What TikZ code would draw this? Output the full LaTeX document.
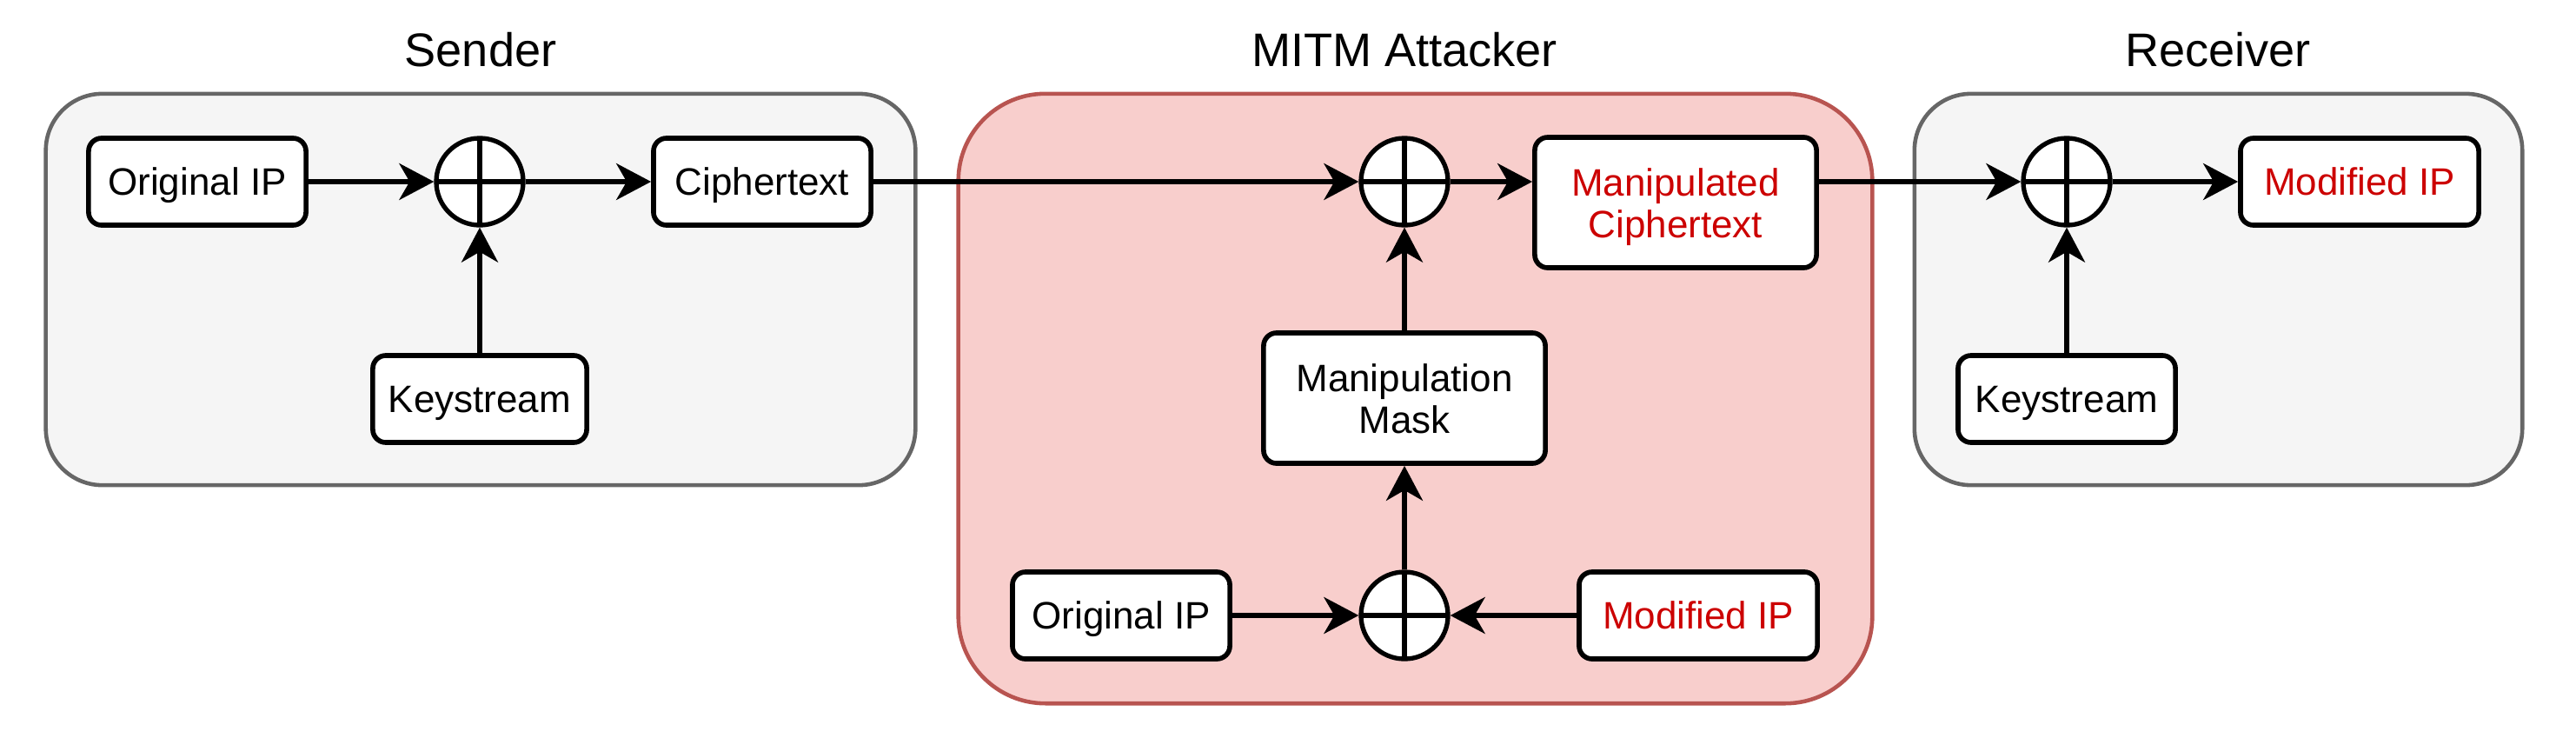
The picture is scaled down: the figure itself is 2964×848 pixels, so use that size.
\documentclass[tikz,border=0pt]{standalone}
\usepackage{fontspec}
\setmainfont{Liberation Sans}
\usetikzlibrary{arrows.meta}
\definecolor{grpfill}{HTML}{F5F5F5}
\definecolor{grpdraw}{HTML}{666666}
\definecolor{mitmfill}{HTML}{F8CECC}
\definecolor{mitmdraw}{HTML}{B85450}
\definecolor{redtext}{HTML}{CC0000}
\begin{document}
\begin{tikzpicture}[x=0.01cm,y=-0.01cm,
  box/.style={draw, fill=white, line width=1.6pt, rounded corners=0.15cm, inner sep=0pt,
    font=\fontsize{12.5}{13.7}\selectfont, align=center, minimum height=1cm,
    text height=8.6pt, text depth=0pt},
  twoline/.style={text height=23.1pt, text depth=0pt},
  xor/.style={circle, draw, fill=white, line width=1.5pt, minimum size=1cm, inner sep=0pt,
    path picture={\draw[line width=1.5pt] (path picture bounding box.north) -- (path picture bounding box.south)
      (path picture bounding box.west) -- (path picture bounding box.east);}},
  grp/.style={draw=grpdraw, fill=grpfill, line width=1.3pt, rounded corners=0.65cm, inner sep=0pt},
  mitm/.style={draw=mitmdraw, fill=mitmfill, line width=1.3pt, rounded corners=1.0cm, inner sep=0pt},
  grptitle/.style={font=\fontsize{15.4}{18}\selectfont, inner sep=0pt},
  arr/.style={-{Stealth[length=0.40cm,width=0.42cm,inset=0.12cm]}, line width=1.5pt},
  red/.style={text=redtext}
]
\useasboundingbox (0,0) rectangle (2964,848);
% groups
\node[grp, minimum width=10cm, minimum height=4.5cm] (gS) at (553,333) {};
\node[mitm, minimum width=10.51cm, minimum height=7.01cm] (gM) at (1628.5,458.5) {};
\node[grp, minimum width=6.99cm, minimum height=4.5cm] (gR) at (2552.5,333) {};
\node[grptitle] (tS) at (553,57) {Sender};
\node[grptitle] (tM) at (1616,57) {MITM Attacker};
\node[grptitle] (tR) at (2552,57) {Receiver};
% sender
\node[box, minimum width=2.5cm] (sOrig) at (227,209) {Original IP};
\node[xor] (x1) at (552,209) {};
\node[box, minimum width=2.5cm] (sCT) at (877,209) {Ciphertext};
\node[box, minimum width=2.46cm, minimum height=1.0cm] (sKey) at (552,459) {Keystream};
% mitm
\node[xor] (mX1) at (1616,209) {};
\node[box, twoline, red, minimum width=3.24cm, minimum height=1.5cm] (mCT) at (1928,233) {Manipulated\\Ciphertext};
\node[box, twoline, minimum width=3.24cm, minimum height=1.5cm] (mMask) at (1616,458) {Manipulation\\Mask};
\node[xor] (mX2) at (1616,708) {};
\node[box, minimum width=2.5cm] (mOrig) at (1290,708) {Original IP};
\node[box, red, minimum width=2.74cm] (mMod) at (1954,708) {Modified IP};
% receiver
\node[xor] (rX) at (2378,209) {};
\node[box, red, minimum width=2.74cm] (rMod) at (2715,209) {Modified IP};
\node[box, minimum width=2.5cm, minimum height=1.0cm] (rKey) at (2378,459) {Keystream};
\coordinate (mCTout) at (mCT.east |- rX);
% connectors
\draw[arr] (sOrig) -- (x1);
\draw[arr] (sKey) -- (x1);
\draw[arr] (x1) -- (sCT);
\draw[arr] (sCT) -- (mX1);
\draw[arr] (mX1) -- (mX1 -| mCT.west);
\draw[arr] (mMask) -- (mX1);
\draw[arr] (mX2) -- (mMask);
\draw[arr] (mOrig) -- (mX2);
\draw[arr] (mMod) -- (mX2);
\draw[arr] (mCTout) -- (rX);
\draw[arr] (rKey) -- (rX);
\draw[arr] (rX) -- (rMod);
\end{tikzpicture}
\end{document}
